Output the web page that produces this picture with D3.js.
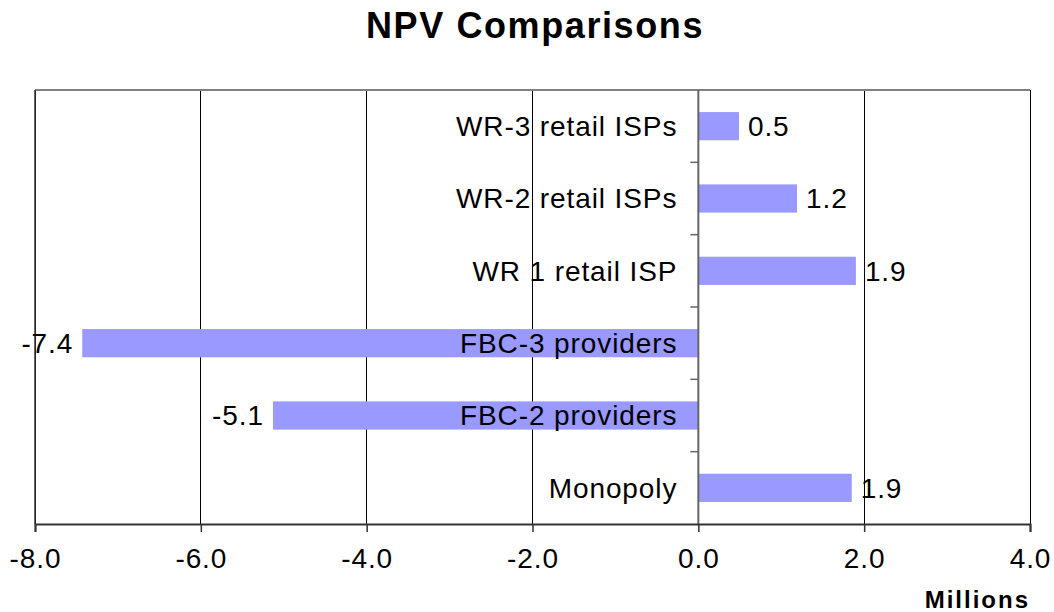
<!DOCTYPE html>
<html>
<head>
<meta charset="utf-8">
<script src="https://cdn.jsdelivr.net/npm/d3@7/dist/d3.min.js"></script>
<style>
  body { margin: 0; background: #fff; }
  svg text { font-family: "Liberation Sans", Arial, sans-serif; fill: #000; }
</style>
</head>
<body>
<svg id="chart" width="1054" height="612"></svg>
<script>
// categories top to bottom
var categories = ["WR-3 retail ISPs", "WR-2 retail ISPs", "WR 1 retail ISP", "FBC-3 providers", "FBC-2 providers", "Monopoly"];
var npvValues = [0.49, 1.19, 1.90, -7.43, -5.13, 1.85];
var valueLabels = ["0.5", "1.2", "1.9", "-7.4", "-5.1", "1.9"];
var xTicks = [-8, -6, -4, -2, 0, 2, 4];

var svg = d3.select("#chart");
var plotLeft = 35, plotRight = 1030, plotTop = 90, plotBottom = 524;
var fs = "28px", ls = "0.9px";

var x = d3.scaleLinear().domain([-8, 4]).range([plotLeft, plotRight]);
var y = d3.scaleBand().domain(categories).range([plotTop, plotBottom]).padding(0);
var barH = y.bandwidth() * 0.39;

// gridlines
svg.append("g").selectAll("line")
  .data(xTicks).enter().append("line")
  .attr("x1", function(d) { return x(d); })
  .attr("x2", function(d) { return x(d); })
  .attr("y1", plotTop).attr("y2", plotBottom)
  .attr("stroke", "#000").attr("stroke-width", 1)
  .attr("shape-rendering", "crispEdges");

// plot border
svg.append("line").attr("x1", plotLeft).attr("x2", plotRight).attr("y1", plotTop).attr("y2", plotTop)
  .attr("stroke", "#808080").attr("stroke-width", 2);
svg.append("line").attr("x1", plotLeft).attr("x2", plotLeft).attr("y1", plotTop).attr("y2", plotBottom)
  .attr("stroke", "#333").attr("stroke-width", 1.5);

// bars
svg.append("g").selectAll("rect")
  .data(npvValues).enter().append("rect")
  .attr("x", function(d) { return x(Math.min(0, d)); })
  .attr("width", function(d) { return Math.abs(x(d) - x(0)); })
  .attr("y", function(d, i) { return y(categories[i]) + (y.bandwidth() - barH) / 2; })
  .attr("height", barH)
  .attr("fill", "#9999ff");

// value labels
svg.append("g").selectAll("text")
  .data(npvValues).enter().append("text")
  .attr("x", function(d) { return d >= 0 ? x(d) + 9 : x(d) - 9; })
  .attr("y", function(d, i) { return y(categories[i]) + y.bandwidth() / 2; })
  .attr("dy", "0.35em")
  .attr("text-anchor", function(d) { return d >= 0 ? "start" : "end"; })
  .style("font-size", fs).style("letter-spacing", ls)
  .text(function(d, i) { return valueLabels[i]; });

// zero axis with category ticks
var yg = svg.append("g").attr("transform", "translate(" + x(0) + ",0)");
yg.append("line").attr("x1", 0).attr("x2", 0).attr("y1", plotTop).attr("y2", plotBottom)
  .attr("stroke", "#666").attr("stroke-width", 2);
yg.selectAll("line.cat").data(categories.slice(1)).enter().append("line")
  .attr("class", "cat")
  .attr("x1", -8).attr("x2", 0)
  .attr("y1", function(d) { return y(d); }).attr("y2", function(d) { return y(d); })
  .attr("stroke", "#666").attr("stroke-width", 1.5);

// category labels
svg.append("g").selectAll("text")
  .data(categories).enter().append("text")
  .attr("x", x(0) - 21)
  .attr("y", function(d) { return y(d) + y.bandwidth() / 2; })
  .attr("dy", "0.35em")
  .attr("text-anchor", "end")
  .style("font-size", fs).style("letter-spacing", ls)
  .text(function(d) { return d; });

// bottom axis
var xAxis = d3.axisBottom(x).tickValues(xTicks).tickSize(8).tickPadding(16)
  .tickFormat(function(d) { return d.toFixed(1); });
var xg = svg.append("g").attr("transform", "translate(0," + plotBottom + ")").call(xAxis);
xg.select(".domain").attr("stroke", "#333").attr("stroke-width", 2);
xg.selectAll(".tick line").attr("stroke", "#333").attr("stroke-width", 1.5);
xg.selectAll(".tick text").style("font-size", fs).style("letter-spacing", ls)
  .style("font-family", "'Liberation Sans', Arial, sans-serif");

// title
svg.append("text")
  .attr("x", 535).attr("y", 38)
  .attr("text-anchor", "middle")
  .style("font-size", "36px").style("font-weight", "bold")
  .style("letter-spacing", "1.6px")
  .text("NPV Comparisons");

// units label
svg.append("text")
  .attr("x", 1030).attr("y", 608)
  .attr("text-anchor", "end")
  .style("font-size", "24px").style("font-weight", "bold")
  .style("letter-spacing", "2px")
  .text("Millions");
</script>
</body>
</html>
